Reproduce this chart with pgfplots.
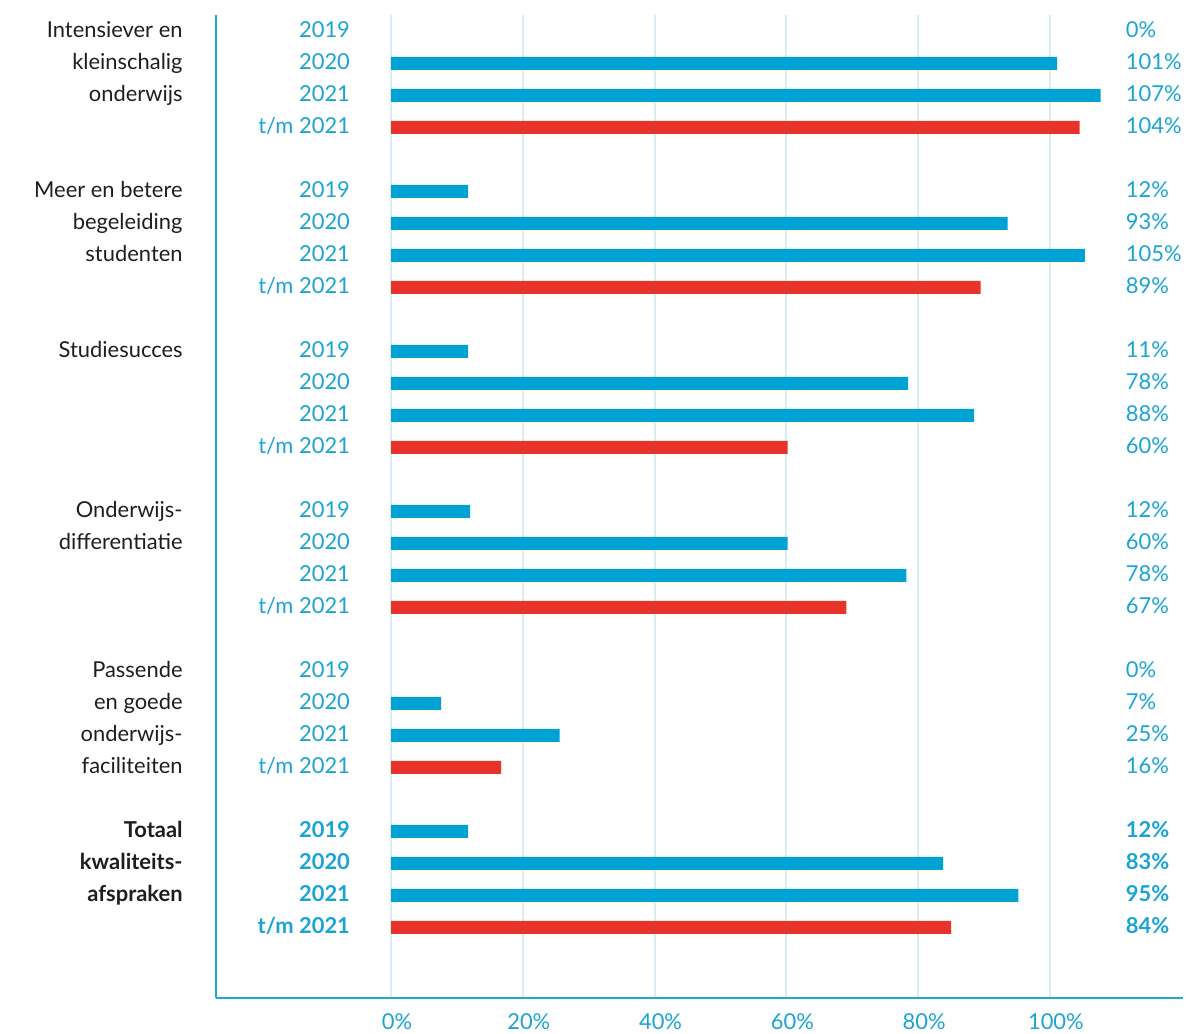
\documentclass[border=0pt]{standalone}
\usepackage{pgfplots}
\pgfplotsset{compat=1.18}
\usepackage{fontspec}
\setmainfont{Lato}
\definecolor{cblue}{HTML}{00A1D3}
\definecolor{cred}{HTML}{E8332A}
\definecolor{cgrid}{HTML}{D4EDF6}
\definecolor{caxis}{HTML}{1DA8DA}
\definecolor{ctext}{HTML}{1E1E1E}
\definecolor{clab}{HTML}{1AA3D6}
\newcommand{\lf}{\fontsize{22}{26}\selectfont}
\begin{document}
\begin{tikzpicture}[
  lab/.style={inner sep=0pt, text height=0.72em, text depth=0pt, font=\lf, yshift=-2.5bp},
  yl/.style={lab, anchor=east, text=clab},
  vl/.style={lab, anchor=west, text=clab},
  cl/.style={lab, anchor=east, text=ctext},
  bf/.style={font=\lf\bfseries}]
\begin{axis}[
  scale only axis, width=967bp, height=983bp,
  xmin=-26.56, xmax=120.2, ymin=-30.21, ymax=0.51,
  axis x line*=bottom, axis y line*=left,
  axis line style={caxis, line width=1.4bp, -},
  xtick={0,20,40,60,80,100}, ytick=\empty,
  major tick length=0pt,
  xmajorgrids, major grid style={cgrid, line width=2bp},
  xticklabel={\pgfmathprintnumber{\tick}\%},
  /pgf/number format/assume math mode=true,
  xticklabel style={text=clab, font=\lf, inner sep=0pt, text height=0.72em, text depth=0pt, anchor=center, yshift=-28bp, xshift=6bp},
  clip=false,
  xbar, bar width=13bp, bar shift=0pt,
]
\addplot[draw=none, fill=cblue] coordinates {
(101.1,-1) (107.7,-2)
(11.7,-5) (93.6,-6) (105.3,-7)
(11.7,-10) (78.5,-11) (88.5,-12)
(12.0,-15) (60.2,-16) (78.2,-17)
(7.6,-21) (25.6,-22)
(11.7,-25) (83.8,-26) (95.2,-27)
};
\addplot[draw=none, fill=cred] coordinates {
(104.5,-3) (89.5,-8) (60.2,-13) (69.1,-18) (16.7,-23) (85.0,-28)
};
\pgfplotsinvokeforeach{0,1,2,3,4}{
  \node[yl] at (axis cs:-6.2,{-5*#1}) {2019};
  \node[yl] at (axis cs:-6.2,{-5*#1-1}) {2020};
  \node[yl] at (axis cs:-6.2,{-5*#1-2}) {2021};
  \node[yl] at (axis cs:-6.2,{-5*#1-3}) {t/m 2021};
}
\node[yl, bf] at (axis cs:-6.2,-25) {2019};
\node[yl, bf] at (axis cs:-6.2,-26) {2020};
\node[yl, bf] at (axis cs:-6.2,-27) {2021};
\node[yl, bf] at (axis cs:-6.2,-28) {t/m 2021};
% values
\node[vl] at (axis cs:111.5,0) {0\%};
\node[vl] at (axis cs:111.5,-1) {101\%};
\node[vl] at (axis cs:111.5,-2) {107\%};
\node[vl] at (axis cs:111.5,-3) {104\%};
\node[vl] at (axis cs:111.5,-5) {12\%};
\node[vl] at (axis cs:111.5,-6) {93\%};
\node[vl] at (axis cs:111.5,-7) {105\%};
\node[vl] at (axis cs:111.5,-8) {89\%};
\node[vl] at (axis cs:111.5,-10) {11\%};
\node[vl] at (axis cs:111.5,-11) {78\%};
\node[vl] at (axis cs:111.5,-12) {88\%};
\node[vl] at (axis cs:111.5,-13) {60\%};
\node[vl] at (axis cs:111.5,-15) {12\%};
\node[vl] at (axis cs:111.5,-16) {60\%};
\node[vl] at (axis cs:111.5,-17) {78\%};
\node[vl] at (axis cs:111.5,-18) {67\%};
\node[vl] at (axis cs:111.5,-20) {0\%};
\node[vl] at (axis cs:111.5,-21) {7\%};
\node[vl] at (axis cs:111.5,-22) {25\%};
\node[vl] at (axis cs:111.5,-23) {16\%};
\node[vl, bf] at (axis cs:111.5,-25) {12\%};
\node[vl, bf] at (axis cs:111.5,-26) {83\%};
\node[vl, bf] at (axis cs:111.5,-27) {95\%};
\node[vl, bf] at (axis cs:111.5,-28) {84\%};
% categories
\node[cl] at (axis cs:-31.6,0) {Intensiever en};
\node[cl] at (axis cs:-31.6,-1) {kleinschalig};
\node[cl] at (axis cs:-31.6,-2) {onderwijs};
\node[cl] at (axis cs:-31.6,-5) {Meer en betere};
\node[cl] at (axis cs:-31.6,-6) {begeleiding};
\node[cl] at (axis cs:-31.6,-7) {studenten};
\node[cl] at (axis cs:-31.6,-10) {Studiesucces};
\node[cl] at (axis cs:-31.6,-15) {Onderwijs-};
\node[cl] at (axis cs:-31.6,-16) {differentiatie};
\node[cl] at (axis cs:-31.6,-20) {Passende};
\node[cl] at (axis cs:-31.6,-21) {en goede};
\node[cl] at (axis cs:-31.6,-22) {onderwijs-};
\node[cl] at (axis cs:-31.6,-23) {faciliteiten};
\node[cl, bf] at (axis cs:-31.6,-25) {Totaal};
\node[cl, bf] at (axis cs:-31.6,-26) {kwaliteits-};
\node[cl, bf] at (axis cs:-31.6,-27) {afspraken};
\coordinate (BL) at (axis description cs:0,0);
\end{axis}
\pgfresetboundingbox
\path[use as bounding box] ([shift={(-216bp,-36bp)}]BL) rectangle ++(1186bp,1034bp);
\end{tikzpicture}
\end{document}
